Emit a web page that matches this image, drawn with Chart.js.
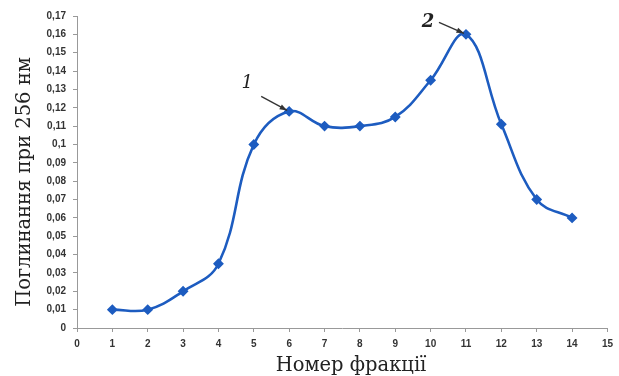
<!DOCTYPE html>
<html>
<head>
<meta charset="utf-8">
<script src="https://cdn.jsdelivr.net/npm/chart.js@4/dist/chart.umd.min.js"></script>
<style>
  html, body { margin: 0; padding: 0; background: #fff; }
  #wrap { width: 619px; height: 376px; position: relative; }
</style>
</head>
<body>
<div id="wrap"><canvas id="chart"></canvas></div>
<script>
// fraction number vs absorbance at 256 nm
const fractions = [1, 2, 3, 4, 5, 6, 7, 8, 9, 10, 11, 12, 13, 14];
const absorbance = [0.01, 0.01, 0.02, 0.035, 0.1, 0.118, 0.11, 0.11, 0.115, 0.135, 0.16, 0.111, 0.07, 0.06];
const peakLabels = ['1', '2'];
const peakIndex = [5, 10];

const xTitle = 'Номер фракції';
const yTitle = 'Поглинання при 256 нм';

const fmt = v => String(Math.round(v * 100) / 100).replace('.', ',');

// titles + peak arrows drawn over the chart
const extras = {
    id: 'extras',
    afterDraw(chart) {
        const { ctx, scales } = chart;
        ctx.save();
        ctx.fillStyle = '#222';
        ctx.font = '19.5px "DejaVu Serif", "Liberation Serif", serif';
        ctx.textAlign = 'center';
        ctx.textBaseline = 'middle';
        ctx.fillText(xTitle, 351, 366);
        ctx.translate(25, 182);
        ctx.rotate(-Math.PI / 2);
        ctx.fillText(yTitle, 0, 0);
        ctx.restore();

        const offsets = [[-26, -14], [-25, -11]];
        const labelPos = [[-40, -27], [-36, -11]];
        peakIndex.forEach((idx, k) => {
            const px = scales.x.getPixelForValue(fractions[idx]) - 2;
            const py = scales.y.getPixelForValue(absorbance[idx]) - 1;
            const sx = px + offsets[k][0], sy = py + offsets[k][1];
            ctx.save();
            ctx.strokeStyle = '#333';
            ctx.fillStyle = '#333';
            ctx.lineWidth = 1.3;
            ctx.beginPath();
            ctx.moveTo(sx, sy);
            ctx.lineTo(px, py);
            ctx.stroke();
            const a = Math.atan2(py - sy, px - sx);
            ctx.beginPath();
            ctx.moveTo(px, py);
            ctx.lineTo(px - 8 * Math.cos(a - 0.35), py - 8 * Math.sin(a - 0.35));
            ctx.lineTo(px - 8 * Math.cos(a + 0.35), py - 8 * Math.sin(a + 0.35));
            ctx.closePath();
            ctx.fill();
            ctx.fillStyle = '#222';
            ctx.font = (k === 1 ? 'bold ' : '') + 'italic 18px "DejaVu Serif", "Liberation Serif", serif';
            ctx.textAlign = 'center';
            ctx.textBaseline = 'middle';
            ctx.fillText(peakLabels[k], px + labelPos[k][0], py + labelPos[k][1]);
            ctx.restore();
        });
    }
};

new Chart(document.getElementById('chart'), {
    type: 'line',
    data: {
        datasets: [{
            data: fractions.map((f, i) => ({ x: f, y: absorbance[i] })),
            borderColor: '#1d5cc0',
            backgroundColor: '#1d5cc0',
            borderWidth: 2.6,
            tension: 0.4,
            pointStyle: 'rectRot',
            pointRadius: 3.6,
            pointHoverRadius: 3.6,
            fill: false
        }]
    },
    options: {
        responsive: true,
        maintainAspectRatio: false,
        animation: false,
        layout: { padding: { left: 0, right: 10, top: 16, bottom: 0 } },
        plugins: { legend: { display: false }, tooltip: { enabled: false } },
        scales: {
            x: {
                type: 'linear', min: 0, max: 15,
                afterFit: s => { s.height = 48; },
                ticks: { stepSize: 1, color: '#333', padding: 6, font: { family: 'Arial, "Liberation Sans", sans-serif', size: 10, weight: 'bold' } },
                grid: { drawOnChartArea: false, tickLength: 4, color: '#999' },
                border: { color: '#999', width: 1 }
            },
            y: {
                min: 0, max: 0.17,
                afterFit: s => { s.width = 77; },
                ticks: { stepSize: 0.01, color: '#333', padding: 7, callback: v => fmt(v), font: { family: 'Arial, "Liberation Sans", sans-serif', size: 10, weight: 'bold' } },
                grid: { drawOnChartArea: false, tickLength: 4, color: '#999' },
                border: { color: '#999', width: 1 }
            }
        }
    },
    plugins: [extras]
});
</script>
</body>
</html>
